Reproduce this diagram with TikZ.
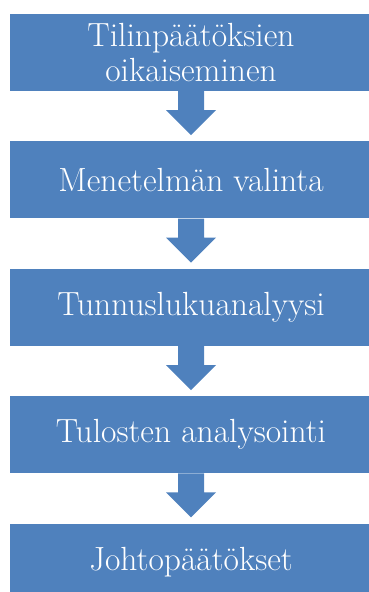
\documentclass[tikz,border=0pt]{standalone}
\usepackage{tikz}
\usetikzlibrary{positioning,calc}

\definecolor{stepblue}{HTML}{4F81BD}

\begin{document}
\begin{tikzpicture}[x=1pt, y=-1pt,
    box/.style={fill=stepblue, text=white, minimum width=362pt, minimum height=77pt,
      inner sep=0pt, align=center, font=\fontsize{33.5}{35}\selectfont},
    flow/.style={fill=stepblue},
    node distance=50pt]
    \useasboundingbox (0,0) rectangle (369,592);
    \node [box] (b1) at (191,52.5) {Tilinpäätöksien\\oikaiseminen};
    \node [box, below=of b1] (b2) {Menetelmän valinta};
    \node [box, below=of b2] (b3) {Tunnuslukuanalyysi};
    \node [box, below=of b3] (b4) {Tulosten analysointi};
    \node [box, below=of b4] (b5) {Johtopäätökset};
    % block arrows between the boxes
    \foreach \a/\b in {b1/b2,b2/b3,b3/b4,b4/b5}
      \fill [flow] (\a.south) ++(-13,0) -- ++(0,19) -- ++(-12,0)
        -- ($(\b.north)+(0,-6)$) -- ++(25,-25) -- ++(-12,0) -- ++(0,-19) -- cycle;
  \end{tikzpicture}
\end{document}
